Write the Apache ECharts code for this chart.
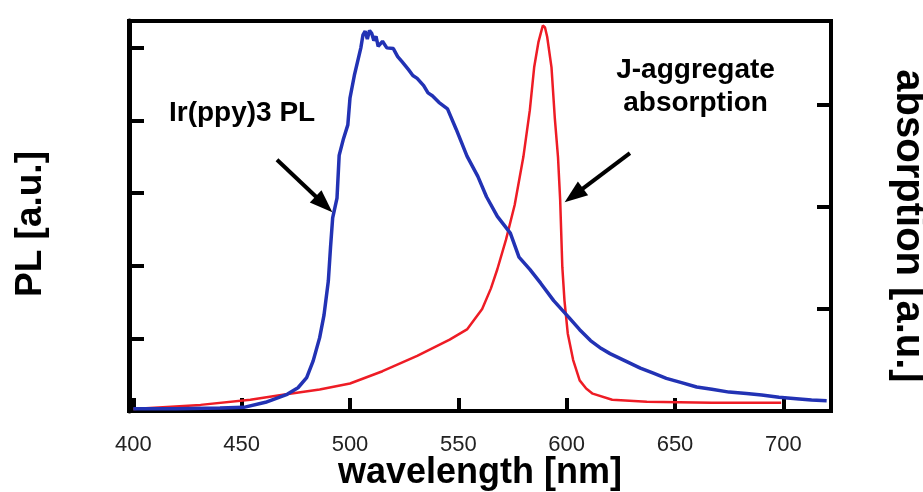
<!DOCTYPE html>
<html>
<head>
<meta charset="utf-8">
<script src="https://cdn.jsdelivr.net/npm/echarts@6/dist/echarts.min.js"></script>
<style>
html,body{margin:0;padding:0;background:#fff;overflow:hidden;}
#chart{width:923px;height:492px;}
</style>
</head>
<body>
<div id="chart"></div>
<script>
// Ir(ppy)3 photoluminescence (left axis, arbitrary units)
var plWavelength = [400,420,440,451,461,471,476,480,483,486,488,490,491,492,494,495,497,499,500,502,505,506,507,508,509,510,511,512,513,515,517,520,522,524,527,529,531,534,536,538,541,545,549,554,559,563,568,574,578,583,588,594,601,606,611,616,620,627,634,640,646,653,660,667,675,683,690,698,706,713,720];
var plValues = [0.03,0.03,0.04,0.05,0.12,0.23,0.32,0.46,0.69,1.01,1.32,1.79,2.25,2.66,2.93,3.52,3.75,3.94,4.31,4.62,5.00,5.18,5.23,5.12,5.24,5.20,5.10,5.16,5.02,5.09,5.00,4.99,4.88,4.81,4.70,4.62,4.58,4.48,4.38,4.34,4.25,4.16,3.88,3.51,3.23,2.95,2.68,2.45,2.12,1.95,1.76,1.52,1.29,1.12,0.97,0.86,0.79,0.69,0.59,0.52,0.45,0.39,0.33,0.30,0.26,0.24,0.22,0.19,0.17,0.15,0.14];

// J-aggregate absorption (right axis, arbitrary units)
var absWavelength = [400,431,454,469,486,500,515,531,546,554,561,565,568,572,576,580,583,585,587,588,589,590,591,593,594.5,596,597,598,599,600.5,603,606,609,612,621,637,667,699];
var absValues = [0.02,0.06,0.11,0.16,0.21,0.27,0.39,0.54,0.70,0.80,1.00,1.20,1.39,1.68,2.02,2.49,2.95,3.37,3.62,3.70,3.78,3.76,3.67,3.37,2.88,2.49,2.07,1.41,1.08,0.76,0.50,0.30,0.22,0.17,0.11,0.09,0.08,0.08];

var xTicks = [400,450,500,550,600,650,700];

// annotations (data coordinates on the left axis)
var annotations = [
  {name:'Ir(ppy)3 PL', coord:[450.2,4.10]},
  {name:'J-aggregate\nabsorption', coord:[659.5,4.47]}
];
// arrow shafts (start -> head centre) and heads (centre, rotation)
var arrowShafts = [
  [[466.3,3.46],[488.0,2.846]],
  [[629.2,3.55],[603.3,2.97]]
];
var arrowHeads = [
  {coord:[488.0,2.846], rotate:-133.4},
  {coord:[603.3,2.97], rotate:127}
];

function pairs(xs, ys){ return xs.map(function(x,i){ return [x, ys[i]]; }); }

var chart = echarts.init(document.getElementById('chart'), null, {renderer:'canvas', width:923, height:492});
var FONT = 'Liberation Sans, Arial, sans-serif';

var markPointData = annotations.map(function(a){
  return {name:a.name, coord:a.coord, symbol:'rect', symbolSize:0};
}).concat(arrowHeads.map(function(h, i){
  return {name:'head'+i, coord:h.coord, symbol:'triangle', symbolSize:[17,23], symbolRotate:h.rotate,
          itemStyle:{color:'#000'}, label:{show:false}};
}));

chart.setOption({
  animation:false,
  backgroundColor:'#fff',
  grid:{left:129, right:92, top:21, bottom:81, show:true, borderColor:'#000', borderWidth:4,
        containLabel:false, outerBoundsMode:'none'},
  xAxis:{
    type:'value', min:398, max:722,
    axisLine:{show:true, onZero:false, lineStyle:{color:'#000', width:4}},
    axisTick:{show:true, inside:true, length:13, customValues:xTicks, lineStyle:{color:'#000', width:4}},
    axisLabel:{show:true, customValues:xTicks, fontSize:22, color:'#222', margin:23, fontFamily:FONT},
    splitLine:{show:false},
    name:'wavelength [nm]', nameLocation:'middle', nameGap:44, nameMoveOverlap:false,
    nameTextStyle:{fontSize:36, fontWeight:'bold', color:'#000', fontFamily:FONT}
  },
  yAxis:[{
    type:'value', position:'left', min:0, max:5.37, interval:1,
    axisLine:{show:true, onZero:false, lineStyle:{color:'#000', width:5}},
    axisTick:{show:true, inside:true, length:15, lineStyle:{color:'#000', width:4}},
    axisLabel:{show:false},
    splitLine:{show:false},
    name:'PL [a.u.]', nameLocation:'middle', nameRotate:90, nameGap:80,
    nameTextStyle:{fontSize:37, fontWeight:'bold', color:'#000', fontFamily:FONT, padding:[0,16,0,0]}
  },{
    type:'value', position:'right', min:0, max:3.824, interval:1,
    axisLine:{show:true, onZero:false, lineStyle:{color:'#000', width:4}},
    axisTick:{show:true, inside:true, length:14, lineStyle:{color:'#000', width:4}},
    axisLabel:{show:false},
    splitLine:{show:false},
    name:'absorption [a.u.]', nameLocation:'middle', nameRotate:-90, nameGap:57,
    nameTextStyle:{fontSize:40, fontWeight:'bold', color:'#000', fontFamily:FONT, padding:[0,0,0,20]}
  }],
  series:[{
    type:'line', name:'J-aggregate absorption', yAxisIndex:1,
    data:pairs(absWavelength, absValues),
    showSymbol:false, smooth:false,
    lineStyle:{color:'#ee1c25', width:2.5},
    itemStyle:{color:'#ee1c25'}
  },{
    type:'line', name:'Ir(ppy)3 PL', yAxisIndex:0,
    data:pairs(plWavelength, plValues),
    showSymbol:false, smooth:false,
    lineStyle:{color:'#2232b4', width:3.5},
    itemStyle:{color:'#2232b4'},
    markLine:{
      silent:true, symbol:'none',
      lineStyle:{color:'#000', width:4, type:'solid'},
      label:{show:false},
      data:arrowShafts.map(function(a){ return [{coord:a[0]},{coord:a[1]}]; })
    },
    markPoint:{
      silent:true,
      label:{show:true, position:'inside', formatter:'{b}', fontSize:28, fontWeight:'bold',
             color:'#000', lineHeight:33, align:'center', verticalAlign:'middle', fontFamily:FONT},
      data:markPointData
    }
  }]
});
</script>
</body>
</html>
